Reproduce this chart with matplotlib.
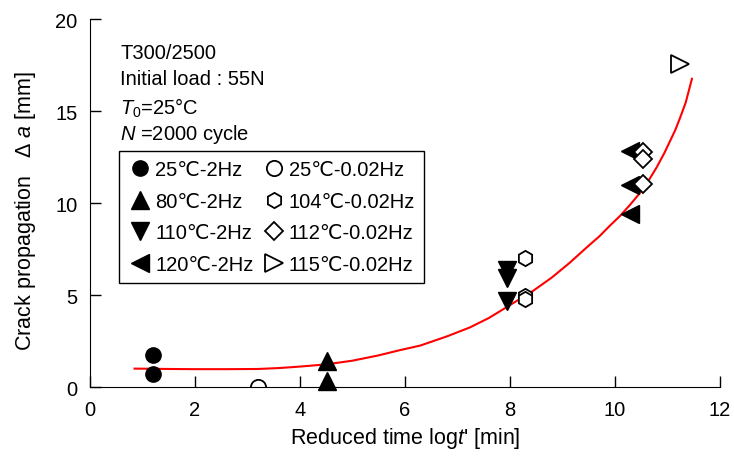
import numpy as np
import matplotlib
matplotlib.use('Agg')
import matplotlib.pyplot as plt

plt.rcParams['font.family'] = ['Liberation Sans', 'DejaVu Sans']
plt.rcParams['mathtext.fontset'] = 'custom'
plt.rcParams['mathtext.rm'] = 'Liberation Sans'
plt.rcParams['mathtext.it'] = 'Liberation Sans:italic'
plt.rcParams['font.size'] = 14.5

# measured points, (log t', delta a)
c25_2 = ([1.2, 1.2], [1.74, 0.72])
c80_2 = ([4.51, 4.51], [1.43, 0.32])
c110_2 = ([7.95, 7.95, 7.95], [6.35, 5.95, 4.65])
c120_2 = ([10.29, 10.29, 10.29], [12.85, 11.0, 9.4])
c25_002 = ([3.2], [0.0])
c104_002 = ([8.29, 8.29, 8.29], [7.0, 4.92, 4.78])
c112_002 = ([10.53, 10.53, 10.53], [12.75, 12.4, 11.05])
c115_002 = ([11.24], [17.55])

# master curve
curve_x = [0.85, 1.5, 2.0, 2.6, 3.2, 3.6, 4.0, 4.5, 5.0, 5.5, 5.9, 6.29, 6.8, 7.24, 7.6, 7.87,
           8.2, 8.44, 8.8, 9.14, 9.45, 9.71, 9.9, 10.1, 10.29, 10.48, 10.65, 10.8, 10.95,
           11.05, 11.15, 11.24, 11.35, 11.47]
curve_y = [1.0, 0.98, 0.97, 0.97, 0.98, 1.03, 1.11, 1.23, 1.43, 1.72, 2.0, 2.25, 2.75, 3.24,
           3.75, 4.22, 4.8, 5.22, 5.95, 6.75, 7.55, 8.2, 8.75, 9.3, 9.9, 10.55, 11.25, 11.95,
           12.75, 13.35, 13.95, 14.6, 15.45, 16.75]

fig = plt.figure(figsize=(7.34, 4.6), dpi=100)
ax = fig.add_axes([0.1226, 0.1565, 0.858, 0.80])

ax.plot(curve_x, curve_y, '-', color='red', lw=1.5, zorder=1)

ms = 11
ax.plot(*c25_2, 'o', color='black', ms=ms, ls='none', label='25\u2103-2Hz', clip_on=False)
ax.plot(*c80_2, '^', color='black', ms=ms + 2, ls='none', label='80\u2103-2Hz', clip_on=False)
ax.plot(*c110_2, 'v', color='black', ms=ms + 2, ls='none', label='110\u2103-2Hz')
ax.plot(*c120_2, '<', color='black', ms=ms + 2, ls='none', label='120\u2103-2Hz')
ax.plot(*c25_002, 'o', mfc='white', mec='black', mew=1.3, ms=ms, ls='none',
        label='25\u2103-0.02Hz', zorder=0.5)
ax.plot(*c104_002, 'h', mfc='white', mec='black', mew=1.3, ms=ms, ls='none',
        label='104\u2103-0.02Hz')
ax.plot(*c112_002, 'D', mfc='white', mec='black', mew=1.3, ms=ms - 2, ls='none',
        label='112\u2103-0.02Hz')
ax.plot(*c115_002, '>', mfc='white', mec='black', mew=1.3, ms=ms + 2, ls='none',
        label='115\u2103-0.02Hz')

ax.set_xlim(0, 12)
ax.set_ylim(0, 20)
ax.set_xticks([0, 2, 4, 6, 8, 10, 12])
ax.set_yticks([0, 5, 10, 15, 20])
ax.spines['top'].set_visible(False)
ax.spines['right'].set_visible(False)
ax.tick_params(direction='in', length=8, width=1, labelsize=14.5, pad=9)

ax.set_xlabel("Reduced time log$t$' [min]", fontsize=15.5, labelpad=5)
ax.set_ylabel("Crack propagation   \u0394 $a$ [mm]", fontsize=15.5)
ax.yaxis.set_label_coords(-0.082, 0.48)

ax.text(0.048, 0.934, 'T300/2500', transform=ax.transAxes, va='top')
ax.text(0.048, 0.863, 'Initial load : 55N', transform=ax.transAxes, va='top')
ax.text(0.048, 0.791, '$T_0$=25\u00b0C', transform=ax.transAxes, va='top')
ax.text(0.048, 0.719, '$N$ =2000 cycle', transform=ax.transAxes, va='top')

leg = ax.legend(ncol=2, loc='upper left', bbox_to_anchor=(0.046, 0.641), fontsize=14.5,
                frameon=True, fancybox=False, edgecolor='black', framealpha=1,
                handletextpad=0.15, columnspacing=0.4, handlelength=1.2,
                borderpad=0.45, labelspacing=0.62, borderaxespad=0)
leg.get_frame().set_linewidth(1.0)

fig.savefig('out.png', dpi=100)
